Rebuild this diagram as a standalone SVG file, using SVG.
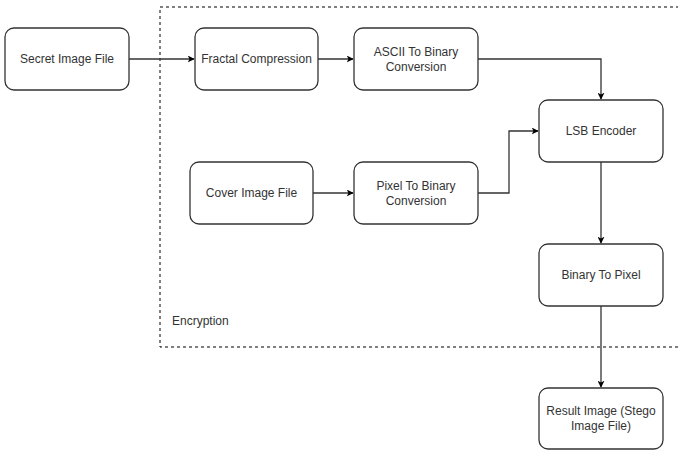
<svg xmlns="http://www.w3.org/2000/svg" width="678" height="450" viewBox="0 0 678 450">
<defs>
<style>
.box{fill:#fff;stroke:#333;stroke-width:1.3}
.t{font-family:"Liberation Sans",Arial,sans-serif;font-size:12px;fill:#333;text-anchor:middle}
.lbl{font-family:"Liberation Sans",Arial,sans-serif;font-size:12px;fill:#333}
.c{fill:none;stroke:#333;stroke-width:1.3}
</style>
<marker id="ah" viewBox="0 0 10 10" refX="9" refY="5" markerWidth="7" markerHeight="7" orient="auto" markerUnits="userSpaceOnUse">
<path d="M0,0 L10,5 L0,10 L2.5,5 Z" fill="#000"/>
</marker>
</defs>
<rect width="678" height="450" fill="#fff"/>
<g id="encryption-group">
<path d="M679,7 H160 V347 H679" fill="none" stroke="#000" stroke-width="1" stroke-dasharray="3,3"/>
<text class="lbl" x="172" y="325">Encryption</text>
</g>
<g id="connectors">
<path class="c" d="M129,59 H194" marker-end="url(#ah)"/>
<path class="c" d="M318,59 H353" marker-end="url(#ah)"/>
<path class="c" d="M478,59 H601 V99" marker-end="url(#ah)"/>
<path class="c" d="M313,193 H353" marker-end="url(#ah)"/>
<path class="c" d="M478,193 H509 V131 H538" marker-end="url(#ah)"/>
<path class="c" d="M601,162 V243" marker-end="url(#ah)"/>
<path class="c" d="M601,306 V387" marker-end="url(#ah)"/>
</g>
<g id="secret-image-file">
<rect class="box" x="5" y="28" width="124" height="62" rx="9"/>
<text class="t" x="67" y="63">Secret Image File</text>
</g>
<g id="fractal-compression">
<rect class="box" x="195" y="28" width="123" height="62" rx="9"/>
<text class="t" x="256.5" y="63">Fractal Compression</text>
</g>
<g id="ascii-to-binary">
<rect class="box" x="354" y="28" width="124" height="62" rx="9"/>
<text class="t" x="416" y="56">ASCII To Binary</text>
<text class="t" x="416" y="71">Conversion</text>
</g>
<g id="lsb-encoder">
<rect class="box" x="539" y="100" width="124" height="62" rx="9"/>
<text class="t" x="601" y="135">LSB Encoder</text>
</g>
<g id="cover-image-file">
<rect class="box" x="190" y="162" width="123" height="62" rx="9"/>
<text class="t" x="251.5" y="197">Cover Image File</text>
</g>
<g id="pixel-to-binary">
<rect class="box" x="354" y="162" width="124" height="62" rx="9"/>
<text class="t" x="416" y="190">Pixel To Binary</text>
<text class="t" x="416" y="205">Conversion</text>
</g>
<g id="binary-to-pixel">
<rect class="box" x="539" y="244" width="124" height="62" rx="9"/>
<text class="t" x="601" y="279">Binary To Pixel</text>
</g>
<g id="result-image">
<rect class="box" x="539" y="388" width="124" height="61" rx="9"/>
<text class="t" x="601" y="415">Result Image (Stego</text>
<text class="t" x="601" y="430">Image File)</text>
</g>
</svg>
